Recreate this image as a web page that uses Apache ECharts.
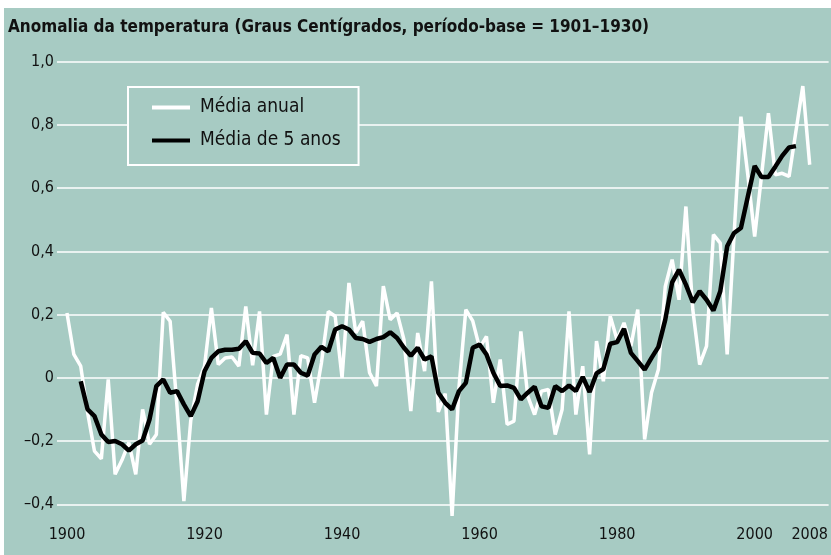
<!DOCTYPE html>
<html>
<head>
<meta charset="utf-8">
<script src="https://cdn.jsdelivr.net/npm/echarts@6/dist/echarts.min.js"></script>
<style>
  html, body { margin: 0; padding: 0; background: #ffffff; }
  #wrap { position: relative; width: 831px; height: 555px; background: #ffffff; overflow: hidden; }
  #chart { position: absolute; left: 4px; top: 8px; width: 827px; height: 547px; }
</style>
</head>
<body>
<div id="wrap"><div id="chart"></div></div>
<script>
const titleText = 'Anomalia da temperatura (Graus Centígrados, período-base = 1901–1930)';
const seriesNames = ['Média anual', 'Média de 5 anos'];
const xTickLabels = [1900, 1920, 1940, 1960, 1980, 2000, 2008];
const yTickValues = [-0.4, -0.2, 0, 0.2, 0.4, 0.6, 0.8, 1.0];

const annualStartYear = 1900;
const annualValues = [
  0.205, 0.074, 0.037, -0.110, -0.232, -0.256, -0.005, -0.305, -0.260, -0.205,
  -0.305, -0.100, -0.210, -0.179, 0.207, 0.179, -0.090, -0.390, -0.135, -0.020,
  0.037, 0.221, 0.042, 0.063, 0.066, 0.037, 0.226, 0.040, 0.210, -0.116,
  0.068, 0.075, 0.137, -0.116, 0.070, 0.063, -0.079, 0.047, 0.210, 0.195,
  0.000, 0.300, 0.142, 0.179, 0.016, -0.026, 0.290, 0.184, 0.205, 0.121,
  -0.105, 0.142, 0.021, 0.305, -0.108, -0.050, -0.437, -0.030, 0.216, 0.180,
  0.095, 0.131, -0.079, 0.058, -0.147, -0.137, 0.147, -0.058, -0.116, -0.042,
  -0.037, -0.179, -0.100, 0.210, -0.116, 0.037, -0.242, 0.116, -0.011, 0.195,
  0.120, 0.174, 0.100, 0.216, -0.195, -0.047, 0.026, 0.289, 0.374, 0.247,
  0.542, 0.216, 0.042, 0.100, 0.453, 0.426, 0.074, 0.450, 0.826, 0.642,
  0.447, 0.640, 0.837, 0.642, 0.647, 0.637, 0.780, 0.923, 0.674
];

const fiveYearStartYear = 1902;
const fiveYearValues = [
  -0.011, -0.100, -0.121, -0.179, -0.203, -0.200, -0.210, -0.230,
  -0.210, -0.198, -0.132, -0.026, -0.005, -0.047, -0.042, -0.084, -0.121, -0.074,
  0.021, 0.063, 0.084, 0.089, 0.089, 0.092, 0.116, 0.079, 0.077, 0.047,
  0.063, 0.000, 0.042, 0.042, 0.016, 0.007, 0.074, 0.098, 0.084, 0.153,
  0.163, 0.153, 0.126, 0.123, 0.114, 0.123, 0.129, 0.144, 0.126, 0.095,
  0.070, 0.095, 0.058, 0.068, -0.047, -0.079, -0.100, -0.042, -0.016, 0.095,
  0.105, 0.074, 0.016, -0.026, -0.024, -0.032, -0.068, -0.047, -0.028, -0.090,
  -0.095, -0.026, -0.042, -0.024, -0.042, 0.003, -0.045, 0.014, 0.028, 0.108,
  0.113, 0.155, 0.079, 0.053, 0.026, 0.063, 0.098, 0.184, 0.302, 0.342,
  0.295, 0.239, 0.274, 0.247, 0.213, 0.274, 0.416, 0.458, 0.474, 0.573,
  0.670, 0.635, 0.635, 0.668, 0.702, 0.729, 0.733
];

const toPairs = (start, vals) => vals.map((v, i) => [start + i, v]);

const bg = '#a7cbc3';
const narrow = "'DejaVu Sans Condensed', 'Liberation Sans', sans-serif";

const chart = echarts.init(document.getElementById('chart'), null, { renderer: 'canvas' });
chart.setOption({
  animation: false,
  backgroundColor: bg,
  title: {
    text: titleText,
    left: 4,
    top: 11,
    padding: 0,
    textStyle: { fontFamily: narrow, fontWeight: 'bold', fontSize: 17, color: '#111111' }
  },
  legend: {
    orient: 'vertical',
    left: 124,
    top: 79,
    padding: [11, 18, 15, 24],
    backgroundColor: bg,
    borderColor: '#ffffff',
    borderWidth: 2,
    icon: 'rect',
    itemWidth: 38,
    itemHeight: 4,
    itemGap: 14,
    data: seriesNames,
    textStyle: { fontFamily: narrow, fontSize: 19, color: '#111111', padding: [0, 0, 0, 5] }
  },
  grid: { left: 53, right: 0, top: 53.7, bottom: 50.7, containLabel: false },
  xAxis: {
    type: 'value',
    min: 1898.55,
    max: 2010.754,
    axisLine: { show: false },
    axisTick: { show: false },
    splitLine: { show: false },
    axisLabel: {
      customValues: xTickLabels,
      formatter: v => String(v),
      margin: 23,
      fontFamily: narrow,
      fontSize: 16,
      color: '#111111'
    }
  },
  yAxis: {
    type: 'value',
    min: -0.4,
    max: 1.0,
    interval: 0.2,
    axisLine: { show: false },
    axisTick: { show: false },
    splitLine: { show: true, lineStyle: { color: '#ffffff', width: 1.5 } },
    axisLabel: {
      margin: 3,
      fontFamily: narrow,
      fontSize: 16,
      color: '#111111',
      formatter: v => {
        const r = Math.round(v * 10) / 10;
        if (r === 0) return '0';
        return (r < 0 ? '–' : '') + Math.abs(r).toFixed(1).replace('.', ',');
      }
    }
  },
  series: [
    {
      name: seriesNames[0],
      type: 'line',
      data: toPairs(annualStartYear, annualValues),
      symbol: 'none',
      showSymbol: false,
      clip: false,
      color: '#ffffff',
      itemStyle: { color: '#ffffff' },
      lineStyle: { color: '#ffffff', width: 3.5 },
      z: 2
    },
    {
      name: seriesNames[1],
      type: 'line',
      data: toPairs(fiveYearStartYear, fiveYearValues),
      symbol: 'none',
      showSymbol: false,
      clip: false,
      color: '#000000',
      itemStyle: { color: '#000000' },
      lineStyle: { color: '#000000', width: 4.5 },
      z: 3
    }
  ]
});
</script>
</body>
</html>
